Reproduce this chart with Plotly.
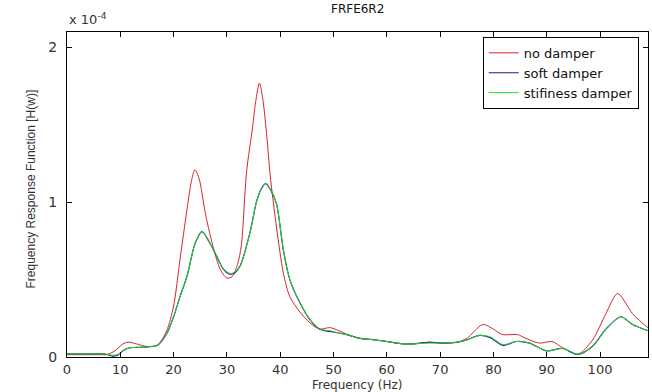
import plotly.graph_objects as go

# Frequency (Hz) sample points and FRF magnitudes (units of 1e-4)
freq_red = [0, 3, 6, 7.5, 9, 10.5, 11.5, 13, 15, 17, 18.7, 20, 21.2, 22.5, 23.3, 24, 24.8, 26, 27.5,
            28.7, 30, 31, 32, 32.7, 33.7, 34.8, 35.4, 36.1, 36.8, 37.5, 38.1, 39.3, 40.6, 41.8,
            43.7, 45.6, 47.4, 49.3, 51, 53, 55, 58, 60, 63, 65, 68, 70, 73, 75, 78, 80, 81.7,
            84.5, 86.1, 88.6, 91, 93, 95.8, 98.6, 101.1, 103.3, 106.1, 108.6, 109]
no_damper = [0.015, 0.015, 0.015, 0.016, 0.04, 0.085, 0.096, 0.085, 0.068, 0.078, 0.17, 0.33, 0.63,
             0.95, 1.13, 1.21, 1.15, 0.92, 0.70, 0.57, 0.51, 0.52, 0.60, 0.72, 1.20, 1.48, 1.65,
             1.77, 1.65, 1.42, 1.18, 0.84, 0.54, 0.39, 0.29, 0.22, 0.18, 0.19, 0.17, 0.14, 0.12,
             0.11, 0.10, 0.085, 0.085, 0.096, 0.09, 0.095, 0.12, 0.21, 0.18, 0.145, 0.145, 0.12,
             0.09, 0.10, 0.06, 0.017, 0.11, 0.28, 0.41, 0.28, 0.20, 0.19]

freq_damped = [0, 4, 7, 8.5, 9.5, 10.5, 11.5, 13, 15, 17, 18.7, 20, 21.2, 22.5, 24, 25.3, 26.9, 28.1,
               29.3, 30.6, 31.5, 32.5, 34.3, 35.6, 36.5, 37.3, 38.2, 39.3, 40.6, 41.8, 43.7, 45.6,
               47.4, 49.3, 51, 53, 55, 58, 60, 63, 65, 68, 70, 73, 75, 77.4, 79.4, 81.8, 84.3,
               86.8, 89.9, 93, 95.8, 98.6, 101.1, 103.9, 106.1, 109]
soft_damper = [0.02, 0.02, 0.02, 0.006, 0.012, 0.04, 0.058, 0.062, 0.065, 0.076, 0.15, 0.26, 0.39,
               0.52, 0.73, 0.81, 0.73, 0.65, 0.57, 0.535, 0.545, 0.59, 0.80, 1.01, 1.09, 1.12, 1.08,
               0.99, 0.69, 0.50, 0.35, 0.24, 0.18, 0.165, 0.155, 0.14, 0.12, 0.11, 0.10, 0.085,
               0.085, 0.095, 0.09, 0.095, 0.11, 0.14, 0.125, 0.075, 0.10, 0.09, 0.04, 0.055, 0.017,
               0.07, 0.18, 0.26, 0.21, 0.17]
stiffness_damper = [0.02, 0.02, 0.02, 0.012, 0.015, 0.04, 0.058, 0.062, 0.065, 0.076, 0.15, 0.26,
                    0.39, 0.52, 0.73, 0.81, 0.73, 0.65, 0.57, 0.54, 0.55, 0.59, 0.80, 1.01, 1.09,
                    1.12, 1.08, 0.99, 0.69, 0.50, 0.35, 0.24, 0.18, 0.17, 0.155, 0.14, 0.12, 0.11,
                    0.10, 0.085, 0.085, 0.09, 0.09, 0.095, 0.11, 0.14, 0.13, 0.08, 0.10, 0.09, 0.04,
                    0.055, 0.017, 0.07, 0.18, 0.26, 0.21, 0.17]

x_ticks = [0, 10, 20, 30, 40, 50, 60, 70, 80, 90, 100]
y_ticks = [0, 1, 2]

FONT = "DejaVu Sans, Liberation Sans, sans-serif"
NARROW = "Liberation Sans Narrow, Liberation Sans, sans-serif"

fig = go.Figure()
fig.add_trace(go.Scatter(x=freq_red, y=no_damper, mode="lines", name="no damper",
                         line=dict(color="#d8232f", width=1, shape="spline", smoothing=0.8)))
fig.add_trace(go.Scatter(x=freq_damped, y=soft_damper, mode="lines", name="soft damper",
                         line=dict(color="#1c1c8a", width=1.2, shape="spline", smoothing=0.8)))
fig.add_trace(go.Scatter(x=freq_damped, y=stiffness_damper, mode="lines", name="stifiness damper",
                         line=dict(color="#22e022", width=1, shape="spline", smoothing=0.8)))

axis_common = dict(showline=True, linecolor="black", linewidth=1, mirror="ticks",
                   ticks="inside", ticklen=5, tickcolor="black", showgrid=False, zeroline=False)

fig.update_layout(
    width=652, height=392,
    margin=dict(l=67, r=4, t=32, b=35),
    paper_bgcolor="white", plot_bgcolor="white",
    showlegend=True,
    legend=dict(x=0.984, y=0.985, xanchor="right", yanchor="top",
                bordercolor="black", borderwidth=1, bgcolor="white",
                font=dict(family=FONT, size=13, color="#111"), tracegroupgap=0),
    xaxis=dict(range=[0, 109], tickvals=x_ticks,
               tickfont=dict(family=FONT, size=13, color="#333"), **axis_common),
    yaxis=dict(range=[0, 2.1], tickvals=y_ticks, ticklabelstandoff=6,
               tickfont=dict(family=FONT, size=14, color="#333"), **axis_common),
    annotations=[
        dict(text="FRFE6R2", xref="paper", yref="paper", x=0.5, y=1, yshift=14,
             xanchor="center", yanchor="bottom", showarrow=False,
             font=dict(family=FONT, size=12, color="#111")),
        dict(text="x 10<sup>-4</sup>", xref="paper", yref="paper", x=0, y=1, yshift=3,
             xanchor="left", yanchor="bottom", showarrow=False,
             font=dict(family=FONT, size=13, color="#333")),
        dict(text="Frequency (Hz)", xref="paper", yref="paper", x=0.5, y=0, yshift=-19,
             xanchor="center", yanchor="top", showarrow=False,
             font=dict(family=FONT, size=12, color="#333")),
        dict(text="Frequency Response Function [H(w)]", xref="paper", yref="paper",
             x=0, xshift=-37, y=0.5, yshift=5, textangle=-90, xanchor="center", yanchor="middle",
             showarrow=False, font=dict(family=NARROW, size=12, color="#333")),
    ],
)

fig.write_html("out.html", config={"displayModeBar": False},
               post_script="document.body.style.margin='0';")
